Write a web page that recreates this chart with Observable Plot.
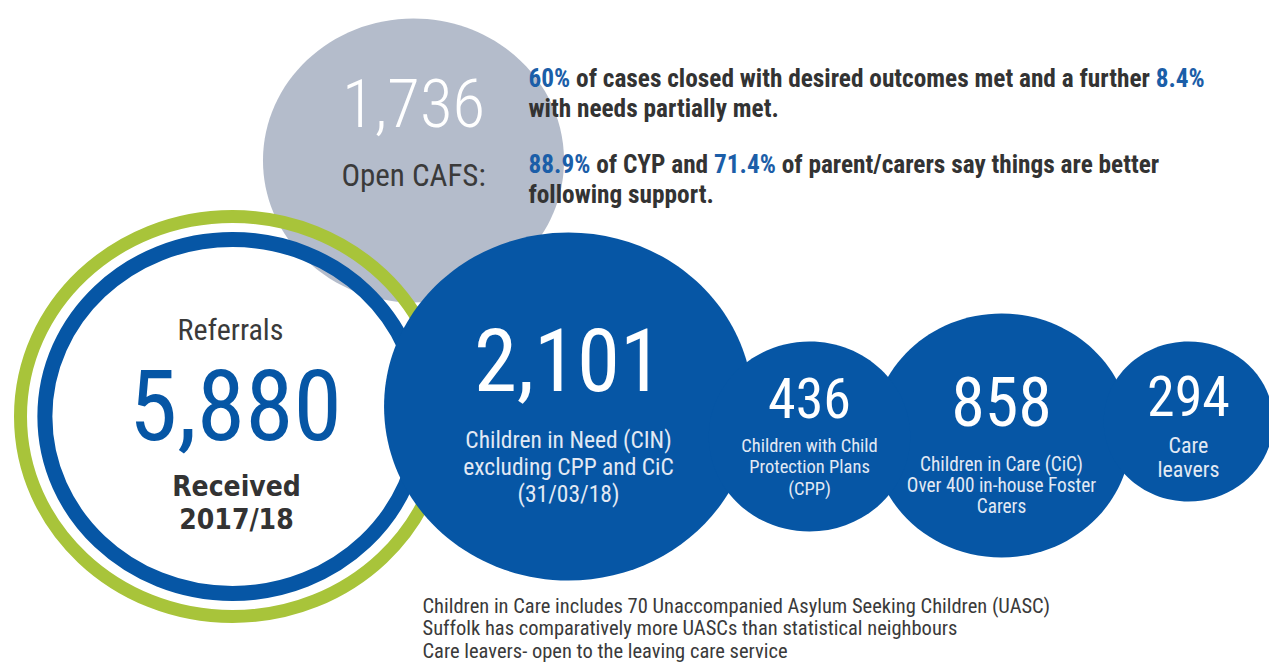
<!DOCTYPE html>
<html>
<head>
<meta charset="utf-8">
<script src="https://cdn.jsdelivr.net/npm/d3@7"></script>
<script src="https://cdn.jsdelivr.net/npm/@observablehq/plot@0.6"></script>
<style>
  html, body { margin: 0; padding: 0; background: #fff; }
  #chart svg { display: block; }
</style>
</head>
<body>
<div id="chart"></div>
<script>
// ---------- data ----------
const bubbleKeys   = ["cafs", "cin", "cpp", "cic", "leavers"];
const bubbleValues = [1736, 2101, 436, 858, 294];
const bubbleLabels = [
  "Open CAFS:",
  "Children in Need (CIN)\nexcluding CPP and CiC\n(31/03/18)",
  "Children with Child\nProtection Plans\n(CPP)",
  "Children in Care (CiC)\nOver 400 in-house Foster\nCarers",
  "Care\nleavers"
];
const referralTitle = "Referrals";
const referralValue = 5880;
const referralSub = "Received\n2017/18";
const outcomeLines = [
  "60% of cases closed with desired outcomes met and a further 8.4%",
  "with needs partially met.",
  "88.9% of CYP and 71.4% of parent/carers say things are better",
  "following support."
];
const noteLines = [
  "Children in Care includes 70 Unaccompanied Asylum Seeking Children (UASC)",
  "Suffolk has comparatively more UASCs than statistical neighbours",
  "Care leavers- open to the leaving care service"
];

// ---------- layout (pixels) ----------
const layout = {
  cafs:    {cx: 413, cy: 160, r: 142, fill: "#b4bccb", num: {y: 105, size: 67, color: "#ffffff", weight: 300}, lab: {y: 174, size: 31, color: "#3a3a3a", lh: 1.2}},
  cin:     {cx: 568, cy: 406, r: 174, fill: "#0656a5", num: {y: 363, size: 87, color: "#ffffff", weight: 400}, lab: {y: 466, size: 23.5, color: "#e2e9f4", lh: 1.13}},
  cpp:     {cx: 809, cy: 436, r: 95,  fill: "#0656a5", num: {y: 400, size: 56, color: "#ffffff", weight: 400}, lab: {y: 466, size: 18.5, color: "#e2e9f4", lh: 1.17}},
  cic:     {cx: 1001, cy: 435, r: 122, fill: "#0656a5", num: {y: 404, size: 68, color: "#ffffff", weight: 400}, lab: {y: 485, size: 19.3, color: "#e2e9f4", lh: 1.09}},
  leavers: {cx: 1188, cy: 421, r: 80,  fill: "#0656a5", num: {y: 398, size: 56, color: "#ffffff", weight: 400}, lab: {y: 457, size: 22, color: "#e2e9f4", lh: 1.08}}
};
const ring = {cx: 232, cy: 416, rings: [{r: 200, stroke: "#a8c43a", w: 13}, {r: 177, stroke: "#0656a5", w: 15}]};
const ASPECT = 1.06; // circles in the source are slightly stretched horizontally

const FONT = "'Roboto Condensed', Roboto, sans-serif";
const fmt = d3.format(",");

// ellipse symbol (slight horizontal stretch)
const ellipse = {
  draw(ctx, size) {
    const ry = Math.sqrt(size / Math.PI), rx = ry * ASPECT, k = 0.5523;
    ctx.moveTo(rx, 0);
    ctx.bezierCurveTo(rx, ry * k, rx * k, ry, 0, ry);
    ctx.bezierCurveTo(-rx * k, ry, -rx, ry * k, -rx, 0);
    ctx.bezierCurveTo(-rx, -ry * k, -rx * k, -ry, 0, -ry);
    ctx.bezierCurveTo(rx * k, -ry, rx, -ry * k, rx, 0);
    ctx.closePath();
  }
};

const bubbles = bubbleKeys.map((k, i) => ({key: k, value: bubbleValues[i], label: bubbleLabels[i], ...layout[k]}));
const cafs = bubbles.filter(d => d.key === "cafs");
const blues = bubbles.filter(d => d.key !== "cafs");
const rings = ring.rings.map(d => ({cx: ring.cx, cy: ring.cy, ...d}));

const numMarks = bubbles.map(d => Plot.text([d], {
  x: "cx", y: () => d.num.y, text: b => fmt(b.value),
  fill: d.num.color, fontSize: d.num.size, fontWeight: d.num.weight, fontFamily: FONT
}));
const labMarks = bubbles.map(d => Plot.text([d], {
  x: "cx", y: () => d.lab.y, text: "label",
  fill: d.lab.color, fontSize: d.lab.size, lineHeight: d.lab.lh, fontFamily: FONT
}));

const chart = Plot.plot({
  width: 1269, height: 663, margin: 0,
  x: {domain: [0, 1269], range: [0, 1269], axis: null},
  y: {domain: [0, 663], range: [0, 663], axis: null},
  r: {type: "identity"},
  style: {background: "#fff", fontFamily: FONT},
  marks: [
    Plot.dot(cafs, {x: "cx", y: "cy", r: "r", fill: "fill", symbol: ellipse, stroke: null}),
    Plot.dot(rings, {x: "cx", y: "cy", r: "r", fill: "none", stroke: "stroke", strokeWidth: "w", symbol: ellipse}),
    Plot.dot(blues, {x: "cx", y: "cy", r: "r", fill: "fill", symbol: ellipse, stroke: null}),
    ...numMarks,
    ...labMarks,
    Plot.text([referralTitle], {x: () => 230, y: () => 330, text: d => d, fill: "#3a3a3a", fontSize: 30, fontFamily: FONT}),
    Plot.text([referralValue], {x: () => 235, y: () => 408, text: d => fmt(d), fill: "#0656a5", fontSize: 98, fontFamily: FONT}),
    Plot.text([referralSub], {x: () => 236, y: () => 501, text: d => d, fill: "#333", fontSize: 28, fontWeight: 700, lineHeight: 1.18, fontFamily: "'DejaVu Sans', sans-serif"}),
    Plot.text(outcomeLines, {x: () => 528, y: (d, i) => [78, 108, 164, 194][i], text: d => d, textAnchor: "start", fill: "#333", fontSize: 25.3, fontWeight: 700, fontFamily: FONT, className: "hl"}),
    Plot.text(noteLines, {x: () => 422, y: (d, i) => [606, 628, 651][i], text: d => d, textAnchor: "start", fill: "#3a3a3a", fontSize: 20.5, fontFamily: FONT})
  ]
});

chart.style.fontStretch = "condensed";
// colour the percentage figures blue inside the outcome sentences
d3.select(chart).selectAll(".hl text").each(function () {
  const el = d3.select(this);
  const s = el.text();
  el.text(null);
  s.split(/(\d+(?:\.\d+)?%)/).forEach(part => {
    if (!part) return;
    const t = el.append("tspan").text(part);
    if (/%$/.test(part)) t.attr("fill", "#1b5ea8");
  });
});
document.getElementById("chart").appendChild(chart);
</script>
</body>
</html>
